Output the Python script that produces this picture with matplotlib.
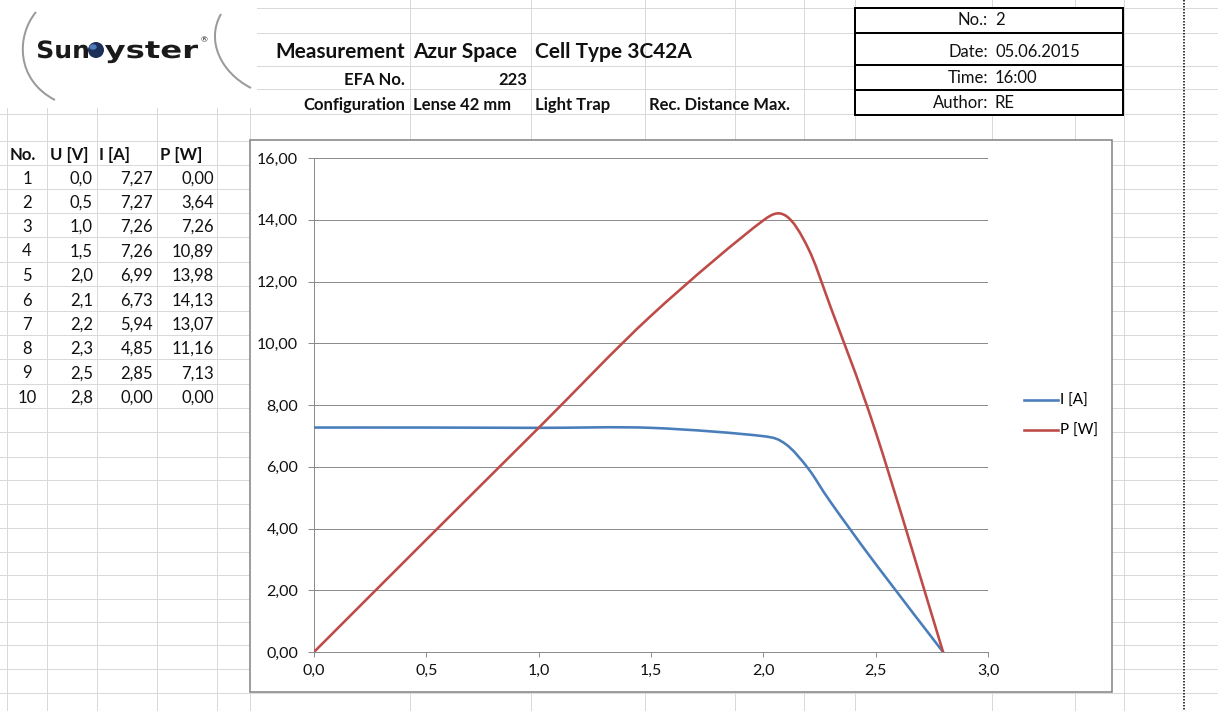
import numpy as np
import matplotlib
matplotlib.use("Agg")
import matplotlib.pyplot as plt
from matplotlib.patches import Rectangle, PathPatch, Circle, Ellipse
from matplotlib.path import Path
from matplotlib.lines import Line2D
from matplotlib.textpath import TextPath
from matplotlib.font_manager import FontProperties
from matplotlib.transforms import Affine2D

plt.rcParams['font.family'] = ['Lato', 'DejaVu Sans']

# ---- measurement data ----
point_no = [1, 2, 3, 4, 5, 6, 7, 8, 9, 10]
voltage = [0.0, 0.5, 1.0, 1.5, 2.0, 2.1, 2.2, 2.3, 2.5, 2.8]
current = [7.27, 7.27, 7.26, 7.26, 6.99, 6.73, 5.94, 4.85, 2.85, 0.00]
power = [0.00, 3.64, 7.26, 10.89, 13.98, 14.13, 13.07, 11.16, 7.13, 0.00]

table_headers = ["No.", "U [V]", "I [A]", "P [W]"]
series_labels = ["I [A]", "P [W]"]
series_colors = ["#4A7EBB", "#BE4B48"]
y_ticks = [0, 2, 4, 6, 8, 10, 12, 14, 16]
x_ticks = [0.0, 0.5, 1.0, 1.5, 2.0, 2.5, 3.0]

title_fields = ["Measurement", "Azur Space", "Cell Type 3C42A"]
efa_fields = ["EFA No.", "223"]
config_fields = ["Configuration", "Lense 42 mm", "Light Trap", "Rec. Distance Max."]
meta_labels = ["No.:", "Date:", "Time:", "Author:"]
meta_values = ["2", "05.06.2015", "16:00", "RE"]

# ---- sheet layout (pixels) ----
W, H = 1218, 711
row_lines = [8, 33, 66, 89, 114, 141, 165, 189, 213, 237, 262, 286, 311, 335,
             359, 384, 408, 432, 457, 480, 504, 528, 552, 575, 599, 622, 645,
             669, 693]
col_lines = [7, 47, 97, 157, 217, 250, 410, 531, 645, 735, 804, 855, 992,
             1075, 1124]
GRID = "#d9d9d9"
FS = 12
TXT = "#111111"

fig = plt.figure(figsize=(W / 100, H / 100), dpi=100)
fig.patch.set_facecolor("white")
bg = fig.add_axes([0, 0, 1, 1])
bg.set_xlim(0, W)
bg.set_ylim(H, 0)
bg.axis("off")

px = 72 / 100  # one pixel in points

for y in row_lines:
    bg.plot([0, W], [y, y], color=GRID, lw=px, zorder=1)
for x in col_lines:
    bg.plot([x, x], [0, H], color=GRID, lw=px, zorder=1)

# page break marker
bg.plot([1184, 1184], [0, H], color="black", lw=1.5 * px,
        ls=(0, (1, 1)), zorder=2)

# ---- logo ----
bg.add_patch(Rectangle((0, 0), 257, 108, facecolor="white",
                       edgecolor="none", zorder=3))
arc_l = Path([(36, 12), (16, 36), (16, 80), (55, 100)],
             [Path.MOVETO, Path.CURVE4, Path.CURVE4, Path.CURVE4])
arc_r = Path([(221, 14), (206, 40), (220, 72), (251, 88)],
             [Path.MOVETO, Path.CURVE4, Path.CURVE4, Path.CURVE4])
for p in (arc_l, arc_r):
    bg.add_patch(PathPatch(p, facecolor="none", edgecolor="#9a9a9a",
                           lw=2 * px, zorder=4))

logo_font = FontProperties(family="DejaVu Sans", weight="bold")
cap_ref = TextPath((0, 0), "S", size=100, prop=logo_font).get_extents().height


def logo_word(word, x0, x1, baseline, cap_h):
    tp = TextPath((0, 0), word, size=100, prop=logo_font)
    ext = tp.get_extents()
    sx = (x1 - x0) / ext.width
    sy = cap_h / cap_ref
    tr = Affine2D().translate(-ext.x0, 0).scale(sx, -sy).translate(x0, baseline)
    return PathPatch(tr.transform_path(tp), facecolor="#1a1a1a",
                     edgecolor="none", zorder=4)


bg.add_patch(logo_word("Sun", 38, 88, 58, 18))
bg.add_patch(logo_word("yster", 105, 198, 58, 18))
bg.add_patch(Circle((96, 50), 8, facecolor="#1c2f5a", edgecolor="none",
                    zorder=4))
bg.add_patch(Ellipse((93, 47), 7.5, 5.5, facecolor="#4f79b8",
                     edgecolor="none", zorder=5))
bg.text(201, 40, "®", fontsize=6, color="#1a1a1a", ha="left", va="center",
        zorder=4)

# ---- header texts ----
bg.text(405, 52, title_fields[0], fontsize=15, fontweight="bold",
        ha="right", va="center", color=TXT, zorder=4)
bg.text(413, 52, title_fields[1], fontsize=15, fontweight="bold",
        ha="left", va="center", color=TXT, zorder=4)
bg.text(535, 52, title_fields[2], fontsize=15, fontweight="bold",
        ha="left", va="center", color=TXT, zorder=4)
bg.text(405, 80, efa_fields[0], fontsize=FS, fontweight="bold",
        ha="right", va="center", color=TXT, zorder=4)
bg.text(527, 80, efa_fields[1], fontsize=FS, fontweight="bold",
        ha="right", va="center", color=TXT, zorder=4)
for x, s, ha in zip([405, 413, 535, 649], config_fields,
                    ["right", "left", "left", "left"]):
    bg.text(x, 105, s, fontsize=FS, fontweight="bold", ha=ha, va="center",
            color=TXT, zorder=4)

# ---- info box ----
bg.add_patch(Rectangle((855, 8), 268, 107, facecolor="white",
                       edgecolor="black", lw=2 * px, zorder=3))
for y in (33, 65, 90):
    bg.plot([855, 1123], [y, y], color="black", lw=2 * px, zorder=4)
for y, lab, val in zip([20, 52, 78, 103], meta_labels, meta_values):
    bg.text(988, y, lab, fontsize=FS, ha="right", va="center", color=TXT,
            zorder=4)
    bg.text(995, y, val, fontsize=FS, ha="left", va="center", color=TXT,
            zorder=4)

# ---- value table ----
for x, s in zip([10, 50, 99, 160], table_headers):
    bg.text(x, 155, s, fontsize=FS, fontweight="bold", ha="left",
            va="center", color=TXT, zorder=4)
table_rows = row_lines[6:17]
for i, (n, u, c, p) in enumerate(zip(point_no, voltage, current, power)):
    yc = (table_rows[i] + table_rows[i + 1]) / 2 + 2
    bg.text(27, yc, str(n), fontsize=FS, ha="center", va="center",
            color=TXT, zorder=4)
    bg.text(93, yc, f"{u:.1f}".replace(".", ","), fontsize=FS, ha="right",
            va="center", color=TXT, zorder=4)
    bg.text(153, yc, f"{c:.2f}".replace(".", ","), fontsize=FS, ha="right",
            va="center", color=TXT, zorder=4)
    bg.text(214, yc, f"{p:.2f}".replace(".", ","), fontsize=FS, ha="right",
            va="center", color=TXT, zorder=4)

# ---- chart frame ----
bg.add_patch(Rectangle((250, 140), 862, 552, facecolor="white",
                       edgecolor="#868686", lw=1.6 * px, zorder=6))

ax = fig.add_axes([314 / W, (H - 652) / H, 674 / W, 494 / H])
ax.patch.set_facecolor("none")
ax.set_xlim(0, 3.0)
ax.set_ylim(0, 16)
ax.set_yticks(y_ticks)
ax.set_yticklabels([f"{v:.2f}".replace(".", ",") for v in y_ticks])
ax.set_xticks(x_ticks)
ax.set_xticklabels([f"{v:.1f}".replace(".", ",") for v in x_ticks])
AX = "#8c8c8c"
for s in ("top", "right"):
    ax.spines[s].set_visible(False)
for s in ("left", "bottom"):
    ax.spines[s].set_color(AX)
    ax.spines[s].set_linewidth(px)
ax.yaxis.grid(True, color=AX, lw=px)
ax.set_axisbelow(True)
ax.tick_params(axis="y", length=6 * px, width=px, color=AX, pad=7,
               labelsize=11.5, labelcolor=TXT)
ax.tick_params(axis="x", length=5 * px, width=px, color=AX, pad=5,
               labelsize=11.5, labelcolor=TXT)

fig.canvas.draw()


def smooth_path(xs, ys):
    """Excel-style smoothed line: cubic Beziers whose handles are capped
    at half the segment length, computed in display space."""
    pts = ax.transData.transform(np.column_stack([xs, ys]))
    n = len(pts)
    verts = [pts[0]]
    codes = [Path.MOVETO]
    for i in range(n - 1):
        p0 = pts[i - 1] if i > 0 else pts[i]
        p1 = pts[i]
        p2 = pts[i + 1]
        p3 = pts[i + 2] if i + 2 < n else pts[i + 1]
        d02 = np.hypot(*(p2 - p0))
        d12 = np.hypot(*(p2 - p1))
        d13 = np.hypot(*(p3 - p1))
        f0 = d12 / d02 / 2 if d02 / 6 >= d12 / 2 and d02 > 0 else 1 / 6
        f1 = d12 / d13 / 2 if d13 / 6 >= d12 / 2 and d13 > 0 else 1 / 6
        c1 = p1 + (p2 - p0) * f0
        c2 = p2 + (p1 - p3) * f1
        verts += [c1, c2, p2]
        codes += [Path.CURVE4] * 3
    verts = ax.transData.inverted().transform(np.array(verts))
    return Path(verts, codes)


for ys, col in zip([current, power], series_colors):
    ax.add_patch(PathPatch(smooth_path(voltage, ys), facecolor="none",
                           edgecolor=col, lw=2.6 * px, capstyle="round",
                           joinstyle="round", zorder=3))

handles = [Line2D([], [], color=c, lw=2.6 * px) for c in series_colors]
ax.legend(handles, series_labels, loc="center left",
          bbox_to_anchor=(1024 / W, 1 - 416 / H),
          bbox_transform=fig.transFigure, frameon=False, fontsize=11,
          handlelength=2.2, handletextpad=0.15, labelspacing=1.05,
          borderpad=0, borderaxespad=0)

fig.savefig("out.png", dpi=100, facecolor="white")
